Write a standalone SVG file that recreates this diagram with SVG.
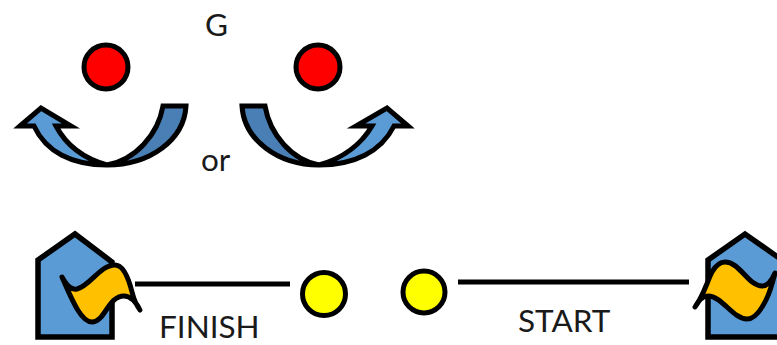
<svg xmlns="http://www.w3.org/2000/svg" width="777" height="345" viewBox="0 0 777 345">
<style>
text{font-family:"Lato","Open Sans","Liberation Sans",sans-serif;font-size:31.5px;fill:#1a1a1a}
.k{stroke:#000;stroke-width:5;stroke-linejoin:miter}
.h{fill:#5b9bd5;stroke:#000;stroke-width:5.5;stroke-linejoin:miter}
.f{fill:#ffc000;stroke:#000;stroke-width:5;stroke-linejoin:round}
.r{fill:#f00;stroke:#000;stroke-width:5}
.y{fill:#ff0;stroke:#000;stroke-width:5}
.a{fill:#5b9bd5}.d{fill:#4a7fb5}
</style>
<rect width="777" height="345" fill="#fff"/>
<g id="connectors">
<line class="k" x1="135" y1="284" x2="290" y2="284"/>
<line class="k" x1="458" y1="282" x2="689" y2="282"/>
</g>
<g id="goal-left"><circle class="r" cx="106" cy="67" r="22"/></g>
<g id="goal-right"><circle class="r" cx="318" cy="67" r="22"/></g>
<g id="arrow-left">
<path class="d k" d="M163 106L186 106C184 140 150 165 107 165C135 160 158 135 163 106Z"/>
<path class="a k" d="M20 126L41 108L71 126L56 126C65 143 82 158 107 165C72 165 46 152 34 126Z"/>
</g>
<g id="arrow-right">
<path class="d k" d="M265 106L242 106C244 140 278 165 319 165C292 160 270 135 265 106Z"/>
<path class="a k" d="M408 126L387 108L356 126L372 126C362 143 344 158 319 165C354 165 381 152 394 126Z"/>
</g>
<g id="finish-flag">
<path class="h" d="M38 260L75 234L112 262L112 337L38 337Z"/>
<path class="f" d="M62 277C67 286 71 290 77 289C90 286 100 265 115 265C124 265 129 280 132 292C134 300 137 306 140 310C136 302 131 296 124 296C108 296 105 322 92 322C82 322 74 305 62 277Z"/>
</g>
<g id="start-flag">
<path class="h" d="M708 260L745 234L782 260L782 337L708 337Z"/>
<path class="f" d="M695 307C703 297 707 282 712 272C716 265 720 262 725 262C740 262 748 286 762 286C768 286 772 280 775 273C772 285 770 292 766 300C761 310 755 319 747 319C733 319 722 296 708 296C702 296 698 301 695 307Z"/>
</g>
<g id="player-a"><circle class="y" cx="324" cy="294" r="21.5"/></g>
<g id="player-b"><circle class="y" cx="424" cy="292" r="21"/></g>
<text x="205" y="36">G</text>
<text x="201" y="171">or</text>
<text x="159" y="338">FINISH</text>
<text x="518" y="332">START</text>
</svg>
